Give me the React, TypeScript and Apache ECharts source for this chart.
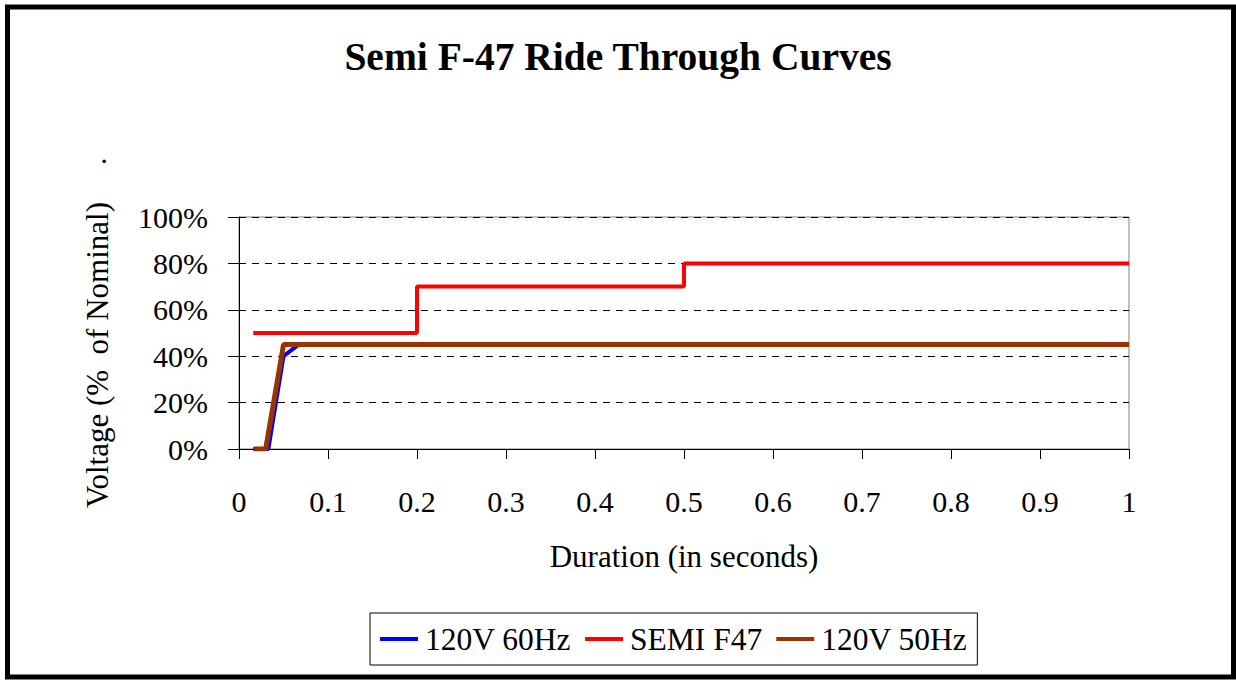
import React, { useEffect, useRef } from "react";
import * as echarts from "echarts";

const titleText = "Semi F-47 Ride Through Curves";
const xAxisTitle = "Duration (in seconds)";
const yAxisTitle = "Voltage (%  of Nominal)";
const seriesNames = ["120V 60Hz", "SEMI F47", "120V 50Hz"];

const x60 = [0.016, 0.033, 0.05, 0.067, 1];
const y60 = [0, 0, 40, 45, 45];
const xSemi = [0.016, 0.2, 0.2, 0.5, 0.5, 1];
const ySemi = [50, 50, 70, 70, 80, 80];
const x50 = [0.017, 0.03, 0.05, 1];
const y50 = [0, 0, 45, 45];

const FONT = "'Liberation Serif', 'Times New Roman', serif";

function pairs(xs: number[], ys: number[]) {
  return xs.map((x, i) => [x, ys[i]]);
}

export default function App() {
  const ref = useRef<HTMLDivElement>(null);
  useEffect(() => {
    if (!ref.current) return;
    const chart = echarts.init(ref.current, undefined, { renderer: "svg" });
    chart.setOption({
      animation: false,
      backgroundColor: "#ffffff",
      textStyle: { fontFamily: FONT, color: "#000" },
      title: {
        text: titleText,
        left: "center",
        top: 32,
        textStyle: { fontFamily: FONT, fontSize: 39.5, fontWeight: "bold", color: "#000" },
      },
      grid: {
        left: 239,
        right: 107,
        top: 217,
        bottom: 232,
        show: true,
        borderColor: "#808080",
        borderWidth: 1,
        backgroundColor: "transparent",
      },
      xAxis: {
        type: "value",
        min: 0,
        max: 1,
        interval: 0.1,
        axisLine: { show: true, onZero: false, lineStyle: { color: "#000", width: 1 } },
        axisTick: { show: true, inside: false, length: 10, lineStyle: { color: "#000" } },
        axisLabel: { fontFamily: FONT, fontSize: 30, color: "#000", margin: 37 },
        splitLine: { show: false },
      },
      yAxis: {
        type: "value",
        min: 0,
        max: 100,
        interval: 20,
        axisLine: { show: true, lineStyle: { color: "#000", width: 1 } },
        axisTick: { show: true, inside: false, length: 11, lineStyle: { color: "#000" } },
        axisLabel: { fontFamily: FONT, fontSize: 30, color: "#000", margin: 31, formatter: "{value}%" },
        splitLine: { show: true, lineStyle: { color: "#000", type: [7, 6], width: 1 } },
      },
      legend: {
        data: seriesNames,
        left: 370,
        top: 613,
        orient: "horizontal",
        padding: [10, 10, 10, 10],
        itemGap: 14,
        itemWidth: 38,
        itemHeight: 4,
        icon: "rect",
        borderColor: "#000",
        borderWidth: 1,
        textStyle: { fontFamily: FONT, fontSize: 31.5, color: "#000", padding: [0, 0, 0, 2] },
      },
      graphic: [
        {
          type: "rect",
          shape: { x: 7.5, y: 7, width: 1226, height: 670 },
          style: { fill: "none", stroke: "#000", lineWidth: 5 },
          silent: true,
        },
        {
          type: "text",
          x: 97,
          y: 355,
          rotation: Math.PI / 2,
          style: {
            text: yAxisTitle,
            font: `31px ${FONT}`,
            fill: "#000",
            align: "center",
            verticalAlign: "middle",
          },
        },
        {
          type: "text",
          x: 684,
          y: 556,
          style: {
            text: xAxisTitle,
            font: `31px ${FONT}`,
            fill: "#000",
            align: "center",
            verticalAlign: "middle",
          },
        },
        {
          type: "text",
          x: 104,
          y: 153,
          style: {
            text: ".",
            font: `29px ${FONT}`,
            fill: "#000",
            align: "center",
            verticalAlign: "middle",
          },
        },
      ],
      series: [
        {
          name: seriesNames[0],
          type: "line",
          data: pairs(x60, y60),
          symbol: "none",
          lineStyle: { color: "#0000ff", width: 4 },
          itemStyle: { color: "#0000ff" },
          z: 2,
        },
        {
          name: seriesNames[1],
          type: "line",
          data: pairs(xSemi, ySemi),
          symbol: "none",
          lineStyle: { color: "#ff0000", width: 4 },
          itemStyle: { color: "#ff0000" },
          z: 3,
        },
        {
          name: seriesNames[2],
          type: "line",
          data: pairs(x50, y50),
          symbol: "none",
          lineStyle: { color: "#993300", width: 5 },
          itemStyle: { color: "#993300" },
          z: 4,
        },
      ],
    });
    return () => chart.dispose();
  }, []);
  return (
    <div
      ref={ref}
      style={{ position: "fixed", left: 0, top: 0, width: 1236, height: 681, background: "#fff" }}
    />
  );
}
